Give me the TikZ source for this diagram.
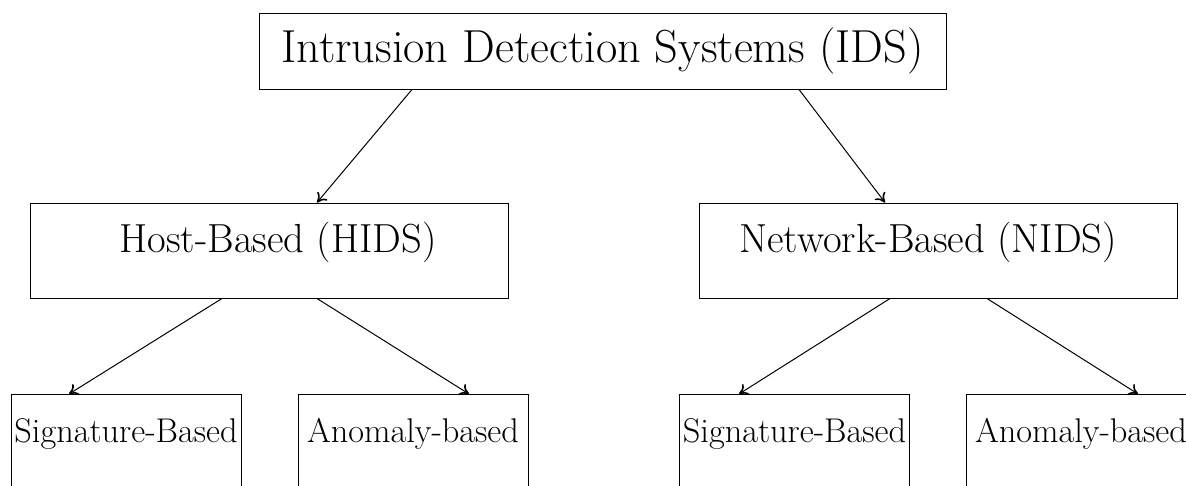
\documentclass[tikz,border=0pt]{standalone}
\usetikzlibrary{arrows.meta,calc}

\tikzset{
  box/.style={draw, line width=1pt, inner xsep=0pt, inner ysep=0pt, align=center},
  rootbox/.style={box, minimum width=687pt, minimum height=76pt,
    font=\fontsize{46.3}{56}\selectfont},
  midbox/.style={box, minimum width=478pt, minimum height=95pt,
    text height=30.5pt, text depth=27.5pt,
    font=\fontsize{40.6}{49}\selectfont},
  leafbox/.style={box, anchor=north, minimum width=230pt,
    text height=48pt, text depth=100pt,
    font=\fontsize{34.3}{41}\selectfont},
  link/.style={line width=1pt, -{To[length=9pt,width=13pt,line width=1.6pt]}}
}

\begin{document}
\begin{tikzpicture}[x=1pt, y=1pt]
  \useasboundingbox (0,0) rectangle (1186,-485);
  \clip (0,0) rectangle (1186,-485);

  % root of the taxonomy
  \node[rootbox] (ids) at (602.5,-51) {Intrusion Detection Systems (IDS)};

  % the two families
  \node[midbox] (hids) at (269,-250.5) {\hspace*{18pt}Host-Based (HIDS)};
  \node[midbox] (nids) at (938,-250.5) {Network-Based (NIDS)\hspace*{20pt}};

  % detection methods, boxes run off the lower edge
  \node[leafbox] (sigh) at (126,-394)  {Signature-Based};
  \node[leafbox] (anoh) at (413,-394)  {Anomaly-based};
  \node[leafbox] (sign) at (794.5,-394) {Signature-Based};
  \node[leafbox] (anon) at (1081,-394) {Anomaly-based};

  % connectors
  \draw[link] ([xshift=-190.5pt]ids.south) -- ([xshift=48pt]hids.north);
  \draw[link] ([xshift=196.5pt]ids.south)  -- ([xshift=-53pt]nids.north);
  \draw[link] ([xshift=-47pt]hids.south)   -- ([xshift=-57pt]sigh.north);
  \draw[link] ([xshift=48pt]hids.south)    -- ([xshift=56pt]anoh.north);
  \draw[link] ([xshift=-48pt]nids.south)   -- ([xshift=-55.5pt]sign.north);
  \draw[link] ([xshift=49pt]nids.south)    -- ([xshift=57pt]anon.north);
\end{tikzpicture}
\end{document}
